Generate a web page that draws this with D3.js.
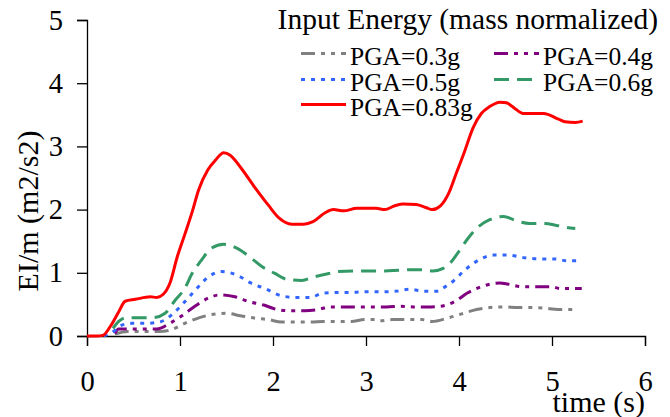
<!DOCTYPE html>
<html>
<head>
<meta charset="utf-8">
<script src="https://cdn.jsdelivr.net/npm/d3@7"></script>
<style>
  html, body { margin: 0; padding: 0; background: #fff; }
  svg text { font-family: "Liberation Serif", Tinos, "Times New Roman", Times, "DejaVu Serif", "Noto Serif", serif !important; }
</style>
</head>
<body>
<svg id="chart" width="670" height="417"></svg>
<script>
// ---- data (time s, EI/m m2/s2) ----
const pga03 = [[0.30,0.03],[0.44,0.07],[0.6,0.07],[0.77,0.07],[0.89,0.09],[1.05,0.2],[1.21,0.29],[1.34,0.34],[1.5,0.36],[1.65,0.32],[1.82,0.28],[1.95,0.26],[2.09,0.22],[2.25,0.22],[2.41,0.22],[2.54,0.23],[2.68,0.23],[2.84,0.23],[2.99,0.26],[3.11,0.26],[3.15,0.24],[3.28,0.26],[3.44,0.26],[3.6,0.26],[3.71,0.23],[3.87,0.28],[4.03,0.35],[4.19,0.42],[4.33,0.45],[4.48,0.46],[4.64,0.45],[4.83,0.45],[4.92,0.44],[5.07,0.42],[5.25,0.42]];
const pga04 = [[0.30,0.04],[0.34,0.11],[0.44,0.11],[0.6,0.11],[0.75,0.11],[0.89,0.2],[1.02,0.32],[1.16,0.47],[1.32,0.61],[1.43,0.65],[1.59,0.62],[1.75,0.54],[1.9,0.49],[2.04,0.42],[2.18,0.40],[2.34,0.40],[2.49,0.42],[2.61,0.46],[2.79,0.46],[2.92,0.46],[3.06,0.46],[3.22,0.46],[3.37,0.47],[3.51,0.46],[3.66,0.46],[3.8,0.47],[3.96,0.55],[4.09,0.68],[4.24,0.78],[4.44,0.84],[4.53,0.82],[4.67,0.78],[4.83,0.78],[4.98,0.78],[5.1,0.75],[5.32,0.75]];
const pga05 = [[0.18,0.0],[0.30,0.09],[0.34,0.15],[0.48,0.2],[0.64,0.2],[0.8,0.23],[0.93,0.36],[1.05,0.54],[1.18,0.75],[1.3,0.93],[1.45,1.02],[1.63,0.95],[1.76,0.84],[1.93,0.74],[2.08,0.64],[2.24,0.61],[2.4,0.61],[2.54,0.68],[2.7,0.69],[2.85,0.69],[3.0,0.7],[3.17,0.7],[3.33,0.71],[3.47,0.74],[3.63,0.71],[3.78,0.71],[3.81,0.74],[3.94,0.87],[4.06,1.04],[4.21,1.2],[4.37,1.28],[4.53,1.28],[4.69,1.24],[4.87,1.22],[5.03,1.22],[5.16,1.19],[5.32,1.19]];
const pga06 = [[0.28,0.12],[0.34,0.23],[0.42,0.29],[0.55,0.29],[0.71,0.29],[0.84,0.36],[0.95,0.57],[1.05,0.75],[1.13,0.99],[1.22,1.18],[1.34,1.39],[1.47,1.45],[1.61,1.39],[1.75,1.25],[1.88,1.1],[2.02,0.99],[2.14,0.9],[2.31,0.88],[2.43,0.93],[2.6,0.99],[2.7,1.02],[2.86,1.03],[3.04,1.03],[3.2,1.03],[3.35,1.04],[3.5,1.05],[3.6,1.05],[3.72,1.03],[3.83,1.07],[3.89,1.13],[3.99,1.32],[4.1,1.55],[4.21,1.73],[4.33,1.84],[4.48,1.89],[4.64,1.81],[4.76,1.78],[4.92,1.78],[5.05,1.75],[5.15,1.72],[5.25,1.70]];
const pga083 = [[0,0],[0.1,0],[0.17,0.01],[0.25,0.15],[0.34,0.38],[0.41,0.55],[0.52,0.58],[0.68,0.62],[0.75,0.61],[0.82,0.66],[0.89,0.83],[0.97,1.25],[1.05,1.6],[1.13,1.96],[1.2,2.31],[1.3,2.63],[1.38,2.78],[1.47,2.9],[1.54,2.86],[1.66,2.65],[1.81,2.34],[1.95,2.07],[2.07,1.86],[2.2,1.77],[2.33,1.77],[2.43,1.81],[2.56,1.95],[2.65,2.0],[2.76,1.98],[2.9,2.02],[3.11,2.02],[3.2,2.0],[3.31,2.06],[3.4,2.09],[3.54,2.08],[3.65,2.03],[3.71,2.0],[3.8,2.06],[3.89,2.26],[3.97,2.57],[4.06,2.92],[4.15,3.29],[4.24,3.52],[4.33,3.63],[4.44,3.7],[4.51,3.69],[4.6,3.6],[4.69,3.52],[4.91,3.52],[5.07,3.43],[5.14,3.39],[5.25,3.38],[5.33,3.4]];

const seriesNames = ["PGA=0.3g","PGA=0.4g","PGA=0.5g","PGA=0.6g","PGA=0.83g"];
const xTicks = [0,1,2,3,4,5,6];
const yTicks = [0,1,2,3,4,5];
const chartTitle = "Input Energy (mass normalized)";
const xTitle = "time (s)";
const yTitle = "EI/m (m2/s2)";

const styles = [
  {color:"#808080", dash:"14,6,4,6,4,6"},
  {color:"#800080", dash:"14,6,4,6,4,6"},
  {color:"#3366FF", dash:"4,6"},
  {color:"#339966", dash:"15,8"},
  {color:"#FF0000", dash:null}
];
const allData = [pga03, pga04, pga05, pga06, pga083];

const svg = d3.select("#chart");
const x = d3.scaleLinear().domain([0,6]).range([87,645]);
const y = d3.scaleLinear().domain([0,5]).range([336,20]);

// axes
const xAxis = svg.append("g").attr("transform","translate(0,336)")
  .call(d3.axisBottom(x).tickValues(xTicks).tickSize(10).tickPadding(10).tickFormat(d3.format("d")));
const yAxis = svg.append("g").attr("transform","translate(87,0)")
  .call(d3.axisLeft(y).tickValues(yTicks).tickSize(10).tickPadding(14).tickFormat(d3.format("d")));
[xAxis,yAxis].forEach(a=>{
  a.attr("font-family",null);
  a.select(".domain").attr("stroke","#000").attr("stroke-width",1.3);
  a.selectAll(".tick line").attr("stroke","#000").attr("stroke-width",1.3);
  a.selectAll(".tick text").attr("font-size",28.5).attr("fill","#000");
});
xAxis.selectAll(".tick text").attr("dy","0.71em").attr("y",35);

// lines
const line = d3.line().x(d=>x(d[0])).y(d=>y(d[1])).curve(d3.curveMonotoneX);
allData.forEach((data,i)=>{
  svg.append("path").datum(data)
    .attr("fill","none")
    .attr("stroke",styles[i].color)
    .attr("stroke-width",3)
    .attr("stroke-dasharray",styles[i].dash)
    .attr("d",line);
});

// titles
svg.append("text").attr("x",645).attr("y",412).attr("text-anchor","end")
  .attr("font-size",30).text(xTitle);
svg.append("text").attr("transform","translate(38,211) rotate(-90)").attr("text-anchor","middle")
  .attr("font-size",30).text(yTitle);

// legend
svg.append("text").attr("x",658).attr("y",29).attr("text-anchor","end").attr("font-size",29.5).text(chartTitle);
const legendPos = [
  {lx:301, tx:350, y:65},
  {lx:494, tx:543, y:65},
  {lx:301, tx:350, y:91},
  {lx:494, tx:543, y:91},
  {lx:301, tx:350, y:116}
];
seriesNames.forEach((name,i)=>{
  const p = legendPos[i];
  svg.append("line").attr("x1",p.lx).attr("x2",p.lx+45)
    .attr("y1",p.y-11.5).attr("y2",p.y-11.5)
    .attr("stroke",styles[i].color).attr("stroke-width",3)
    .attr("stroke-dasharray",styles[i].dash);
  svg.append("text").attr("x",p.tx).attr("y",p.y).attr("font-size",25.5).text(name);
});
</script>
</body>
</html>
